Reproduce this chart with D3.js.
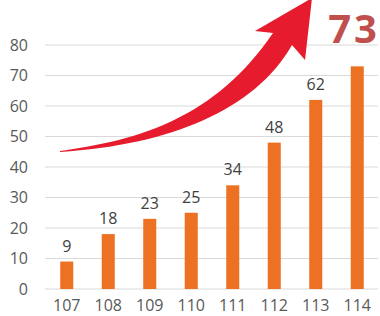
<!DOCTYPE html>
<html><head><meta charset="utf-8">
<script src="https://cdn.jsdelivr.net/npm/d3@7/dist/d3.min.js"></script>
<style>body{margin:0;background:#fff;overflow:hidden}</style>
</head><body>
<svg id="c" width="380" height="316"></svg>
<script>
const years = ["107","108","109","110","111","112","113","114"];
const values = [9,18,23,25,34,48,62,73];
const yTicks = [0,10,20,30,40,50,60,70,80];
const highlightLabel = "73";

const svg = d3.select("#c");
const x = d3.scaleBand().domain(years).range([46,378]).paddingInner(0.686).paddingOuter(0.343);
const y = d3.scaleLinear().domain([0,80]).range([289,45]);

// gridlines
svg.append("g").selectAll("line").data(yTicks).join("line")
  .attr("x1",45).attr("x2",378).attr("y1",d=>y(d)).attr("y2",d=>y(d))
  .attr("stroke","#d9d9d9").attr("stroke-width",1.2);

// y labels
svg.append("g").selectAll("text").data(yTicks).join("text")
  .attr("x",28).attr("y",d=>y(d)).attr("dy","0.36em").attr("text-anchor","end")
  .attr("font-family","'Open Sans',sans-serif").attr("font-size",16).attr("fill","#595959")
  .text(d=>d);

// bars
svg.append("g").selectAll("rect").data(values).join("rect")
  .attr("x",(d,i)=>x(years[i])).attr("width",x.bandwidth())
  .attr("y",d=>y(d)).attr("height",d=>y(0)-y(d)).attr("fill","#ec7122");

// value labels (all but last)
svg.append("g").selectAll("text").data(values.slice(0,-1)).join("text")
  .attr("x",(d,i)=>x(years[i])+x.bandwidth()/2).attr("y",d=>y(d)-10)
  .attr("text-anchor","middle")
  .attr("font-family","'Open Sans',sans-serif").attr("font-size",16).attr("fill","#404040")
  .text(d=>d);

// x labels
svg.append("g").selectAll("text").data(years).join("text")
  .attr("x",d=>x(d)+x.bandwidth()/2).attr("y",311).attr("text-anchor","middle")
  .attr("font-family","'Open Sans',sans-serif").attr("font-size",16).attr("fill","#595959")
  .text(d=>d);

// arrow
svg.append("path")
  .attr("d","M60,151 C140,140 215,118 273,33 L255,31 L312,-2 L305,60 L292,45 C255,110 170,145 60,152 Z")
  .attr("fill","#e61b2e");

// big label
svg.append("text").attr("x",354).attr("y",43).attr("text-anchor","middle")
  .attr("font-family","'Open Sans',sans-serif").attr("font-weight","bold").attr("font-size",40)
  .attr("letter-spacing","3px").attr("fill","#c0504d").text(highlightLabel);
</script>
</body></html>
